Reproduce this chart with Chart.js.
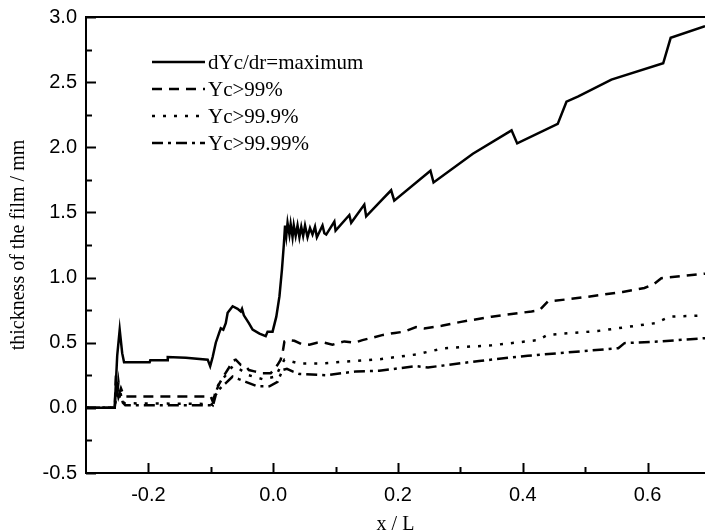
<!DOCTYPE html>
<html>
<head>
<meta charset="utf-8">
<script src="https://cdn.jsdelivr.net/npm/chart.js@4.4.1/dist/chart.umd.min.js"></script>
<style>
  body { margin: 0; background: #fff; }
</style>
</head>
<body>
<canvas id="filmChart" width="705" height="531"></canvas>
<script>
// dYc/dr = maximum
const maxX = [-0.300, -0.254, -0.250, -0.246, -0.242, -0.239, -0.198, -0.197, -0.170, -0.169,
  -0.140, -0.105, -0.101, -0.097, -0.092, -0.087, -0.084, -0.080, -0.076, -0.073,
  -0.065, -0.057, -0.052, -0.050, -0.047, -0.039, -0.033, -0.022, -0.012, -0.009,
  -0.001, 0.005, 0.010, 0.014, 0.017, 0.019, 0.021, 0.023, 0.026, 0.028,
  0.031, 0.033, 0.036, 0.039, 0.042, 0.045, 0.048, 0.051, 0.055, 0.059,
  0.063, 0.067, 0.070, 0.075, 0.079, 0.082, 0.085, 0.098, 0.100, 0.122,
  0.125, 0.146, 0.149, 0.173, 0.189, 0.194, 0.252, 0.257, 0.320, 0.382,
  0.391, 0.456, 0.470, 0.489, 0.542, 0.625, 0.637, 0.692];
const maxY = [0, 0, 0.40, 0.60, 0.42, 0.35, 0.35, 0.365, 0.365, 0.39,
  0.385, 0.37, 0.32, 0.39, 0.50, 0.57, 0.61, 0.60, 0.65, 0.73,
  0.78, 0.76, 0.74, 0.76, 0.71, 0.65, 0.60, 0.57, 0.55, 0.585,
  0.585, 0.70, 0.855, 1.06, 1.25, 1.40, 1.32, 1.42, 1.33, 1.41,
  1.31, 1.40, 1.32, 1.40, 1.31, 1.39, 1.32, 1.40, 1.31, 1.38,
  1.33, 1.39, 1.31, 1.36, 1.40, 1.34, 1.33, 1.43, 1.36, 1.48,
  1.42, 1.56, 1.47, 1.59, 1.67, 1.59, 1.82, 1.73, 1.95, 2.13,
  2.03, 2.18, 2.35, 2.39, 2.52, 2.645, 2.84, 2.93];

// Yc > 99%
const p99X = [-0.300, -0.254, -0.252, -0.250, -0.248, -0.246, -0.244, -0.240, -0.236, -0.100,
  -0.097, -0.092, -0.087, -0.080, -0.072, -0.065, -0.060, -0.052, -0.044, -0.039,
  -0.030, -0.017, -0.004, 0.007, 0.012, 0.016, 0.018, 0.025, 0.034, 0.045,
  0.058, 0.070, 0.082, 0.095, 0.114, 0.130, 0.143, 0.160, 0.176, 0.195,
  0.210, 0.229, 0.242, 0.270, 0.301, 0.350, 0.414, 0.427, 0.440, 0.500,
  0.560, 0.595, 0.610, 0.622, 0.692];
const p99Y = [0, 0, 0.25, 0.10, 0.20, 0.12, 0.15, 0.10, 0.087, 0.087,
  0.05, 0.12, 0.18, 0.24, 0.30, 0.36, 0.37, 0.33, 0.32, 0.29,
  0.28, 0.265, 0.265, 0.33, 0.37, 0.45, 0.51, 0.52, 0.515, 0.49,
  0.485, 0.50, 0.50, 0.485, 0.51, 0.50, 0.52, 0.54, 0.56, 0.575,
  0.585, 0.62, 0.61, 0.63, 0.66, 0.70, 0.74, 0.75, 0.815, 0.85,
  0.89, 0.92, 0.95, 0.995, 1.03];

// Yc > 99.9%
const p999X = [-0.300, -0.254, -0.251, -0.248, -0.245, -0.242, -0.238, -0.100, -0.097, -0.092,
  -0.085, -0.076, -0.065, -0.055, -0.045, -0.039, -0.017, 0.004, 0.012, 0.018,
  0.026, 0.042, 0.074, 0.117, 0.170, 0.229, 0.274, 0.350, 0.424, 0.440,
  0.520, 0.612, 0.636, 0.692];
const p999Y = [0, 0, 0.12, 0.06, 0.10, 0.05, 0.035, 0.03, 0.02, 0.14,
  0.20, 0.25, 0.32, 0.30, 0.27, 0.25, 0.22, 0.24, 0.32, 0.37,
  0.36, 0.34, 0.34, 0.355, 0.373, 0.41, 0.458, 0.48, 0.52, 0.56,
  0.59, 0.65, 0.70, 0.71];

// Yc > 99.99%
const p9999X = [-0.300, -0.254, -0.251, -0.248, -0.245, -0.241, -0.237, -0.100, -0.097, -0.092,
  -0.085, -0.076, -0.065, -0.055, -0.044, -0.025, -0.006, 0.007, 0.015, 0.022,
  0.031, 0.042, 0.085, 0.133, 0.170, 0.229, 0.248, 0.330, 0.408, 0.553,
  0.563, 0.620, 0.692];
const p9999Y = [0, 0, 0.15, 0.08, 0.12, 0.04, 0.02, 0.02, 0.01, 0.10,
  0.15, 0.19, 0.24, 0.22, 0.20, 0.165, 0.165, 0.20, 0.29, 0.30,
  0.28, 0.26, 0.25, 0.28, 0.285, 0.32, 0.31, 0.36, 0.40, 0.458,
  0.497, 0.51, 0.535];

const xTickValues = [-0.2, 0.0, 0.2, 0.4, 0.6];
const yTickValues = [-0.5, 0.0, 0.5, 1.0, 1.5, 2.0, 2.5, 3.0];

const toPoints = (xs, ys) => xs.map((x, i) => ({ x: x, y: ys[i] }));

const series = (label, xs, ys, dash) => ({
  label: label,
  data: toPoints(xs, ys),
  borderColor: "#000",
  borderWidth: 2.5,
  borderDash: dash,
  pointRadius: 0,
  tension: 0,
  fill: false,
});

// inward tick marks, top frame line and the in-plot legend
const framePlugin = {
  id: "frame",
  afterDraw(chart) {
    const { ctx, chartArea } = chart;
    const xs = chart.scales.x;
    const ys = chart.scales.y;
    ctx.save();
    ctx.strokeStyle = "#000";
    ctx.lineWidth = 2;
    ctx.setLineDash([]);

    ctx.beginPath();
    ctx.moveTo(chartArea.left - 1, chartArea.top);
    ctx.lineTo(chartArea.right, chartArea.top);
    ctx.stroke();

    for (let v = -0.5; v <= 3.001; v += 0.25) {
      const py = Math.round(ys.getPixelForValue(v)) + 0.5;
      const major = Math.abs(v * 2 - Math.round(v * 2)) < 1e-6;
      ctx.beginPath();
      ctx.moveTo(chartArea.left, py);
      ctx.lineTo(chartArea.left + (major ? 10 : 6), py);
      ctx.stroke();
    }
    for (let v = -0.2; v <= 0.65; v += 0.1) {
      const px = Math.round(xs.getPixelForValue(v)) + 0.5;
      const major = Math.abs(v * 5 - Math.round(v * 5)) < 1e-6;
      ctx.beginPath();
      ctx.moveTo(px, chartArea.bottom);
      ctx.lineTo(px, chartArea.bottom - (major ? 10 : 6));
      ctx.stroke();
    }

    const lg = chart.options.plugins.frame;
    ctx.font = lg.font;
    ctx.fillStyle = "#000";
    ctx.textBaseline = "middle";
    chart.data.datasets.forEach((ds, i) => {
      const y = lg.top + i * lg.rowGap;
      ctx.lineWidth = ds.borderWidth;
      ctx.setLineDash(ds.borderDash || []);
      ctx.beginPath();
      ctx.moveTo(lg.left, y);
      ctx.lineTo(lg.left + lg.lineLength, y);
      ctx.stroke();
      ctx.setLineDash([]);
      ctx.fillText(ds.label, lg.left + lg.lineLength + 3, y + 1);
    });
    ctx.restore();
  },
};

const ctx = document.getElementById("filmChart").getContext("2d");
new Chart(ctx, {
  type: "line",
  data: {
    datasets: [
      series("dYc/dr=maximum", maxX, maxY, []),
      series("Yc>99%", p99X, p99Y, [10, 7]),
      series("Yc>99.9%", p999X, p999Y, [3, 8]),
      series("Yc>99.99%", p9999X, p9999Y, [11, 5, 3, 5]),
    ],
  },
  plugins: [framePlugin],
  options: {
    responsive: false,
    animation: false,
    layout: {
      padding: { top: 17, right: 0, bottom: 0, left: 0 },
    },
    plugins: {
      legend: { display: false },
      tooltip: { enabled: false },
      frame: {
        left: 152,
        top: 62,
        rowGap: 27,
        lineLength: 53,
        font: "21px 'Liberation Serif'",
      },
    },
    scales: {
      x: {
        type: "linear",
        min: -0.3,
        max: 0.692,
        grid: { display: false, drawTicks: false },
        border: { display: true, color: "#000", width: 2 },
        afterBuildTicks: (scale) => {
          scale.ticks = xTickValues.map((v) => ({ value: v }));
        },
        afterFit: (scale) => {
          scale.height = 58;
          scale.paddingLeft = 0;
          scale.paddingRight = 0;
        },
        ticks: {
          color: "#000",
          padding: 10,
          maxRotation: 0,
          font: { family: "'Liberation Sans'", size: 20 },
          callback: (v) => Number(v).toFixed(1),
        },
        title: {
          display: true,
          text: "x / L",
          color: "#000",
          font: { family: "'Liberation Serif'", size: 20, lineHeight: 1 },
          padding: { top: 0, bottom: -4 },
        },
      },
      y: {
        min: -0.5,
        max: 3.0,
        grid: { display: false, drawTicks: false },
        border: { display: true, color: "#000", width: 2 },
        afterBuildTicks: (scale) => {
          scale.ticks = yTickValues.map((v) => ({ value: v }));
        },
        afterFit: (scale) => {
          scale.width = 86;
          scale.paddingTop = 0;
          scale.paddingBottom = 0;
        },
        ticks: {
          color: "#000",
          padding: 9,
          font: { family: "'Liberation Sans'", size: 20 },
          callback: (v) => Number(v).toFixed(1),
        },
        title: {
          display: true,
          text: "thickness of the film / mm",
          color: "#000",
          font: { family: "'Liberation Serif'", size: 20, lineHeight: 1.2 },
          padding: { top: 7, bottom: 0 },
        },
      },
    },
  },
});
</script>
</body>
</html>
